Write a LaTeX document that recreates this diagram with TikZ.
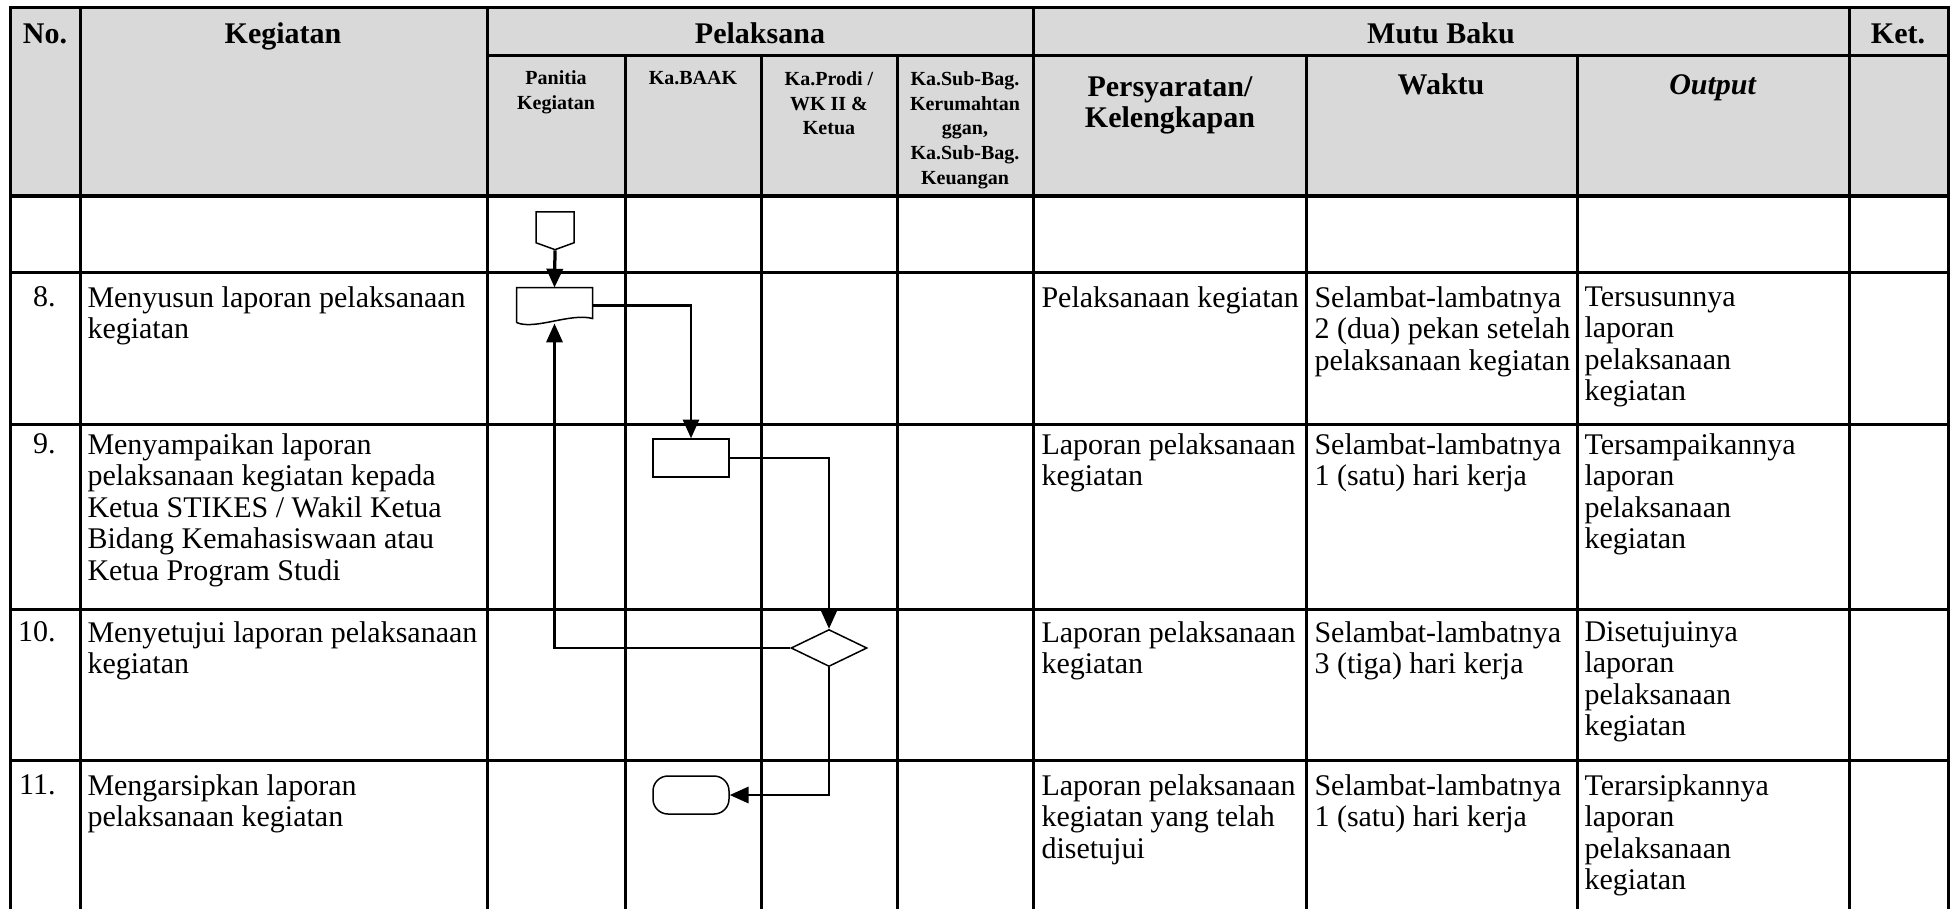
\documentclass[tikz,border=0pt]{standalone}
\usepackage{fontspec}
\setmainfont{Liberation Serif}
\usepackage{tikz}
\usetikzlibrary{shapes.geometric, shapes.symbols, arrows.meta, calc}

\begin{document}
\begin{tikzpicture}[
    x=0.4pt, y=-0.4pt,
    grid/.style={line width=1.2pt, draw=black},
    headtxt/.style={anchor=base, inner sep=0pt, font=\fontsize{12}{12.6}\selectfont\bfseries},
    subtxt/.style={anchor=north, inner sep=0pt, align=center, font=\fontsize{8}{9.9}\selectfont\bfseries},
    celltxt/.style={anchor=north west, inner sep=0pt, align=left, font=\fontsize{12}{12.6}\selectfont},
    numtxt/.style={anchor=north east, inner sep=0pt, font=\fontsize{12}{12.6}\selectfont},
    offpage/.style={shape=signal, signal to=south, signal pointer angle=140, draw, line width=0.6pt, minimum width=15.2pt, minimum height=12.4pt, inner sep=0pt},
    process/.style={rectangle, draw, line width=0.6pt, minimum width=30.4pt, minimum height=15.2pt, inner sep=0pt},
    decision/.style={diamond, aspect=2, draw, line width=0.6pt, minimum width=30.4pt, minimum height=14.8pt, inner sep=0pt},
    terminal/.style={rectangle, rounded corners=6pt, draw, line width=0.6pt, minimum width=30.4pt, minimum height=15.2pt, inner sep=0pt},
    docbox/.style={rectangle, minimum width=30pt, minimum height=14pt, inner sep=0pt},
    arrow/.style={-{Triangle[length=7.5pt, width=6.5pt]}, line width=0.9pt, draw=black}
]
\useasboundingbox (0,0) rectangle (1959,909);

% Header background
\fill[gray!30] (10,7) rectangle (1948,196);

% Table lines
\draw[grid] (10,909) -- (10,7) -- (1948,7) -- (1948,909);
\draw[grid] (487,55) -- (1948,55);
\draw[grid, line width=1.6pt] (10,196) -- (1948,196);
\foreach \y in {272,424,609,760}
    \draw[grid] (10,\y) -- (1948,\y);
\foreach \x in {80,487,1033,1849}
    \draw[grid] (\x,7) -- (\x,909);
\foreach \x in {625,761,897,1306,1577}
    \draw[grid] (\x,55) -- (\x,909);

% Header
\node[headtxt] (h_no) at (45,43) {No.};
\node[headtxt] (h_keg) at (283,43) {Kegiatan};
\node[headtxt] (h_pel) at (760,43) {Pelaksana};
\node[headtxt] (h_mutu) at (1441,43) {Mutu Baku};
\node[headtxt] (h_ket) at (1898,43) {Ket.};

\node[subtxt] (h_panitia) at (556,70) {Panitia\\Kegiatan};
\node[subtxt] (h_baak) at (693,71) {Ka.BAAK};
\node[subtxt] (h_prodi) at (829,71) {Ka.Prodi /\\WK II \&\\Ketua};
\node[subtxt] (h_subbag) at (965,71) {Ka.Sub-Bag.\\Kerumahtan\\ggan,\\Ka.Sub-Bag.\\Keuangan};

\node[headtxt, anchor=north, align=center] (h_syarat) at (1170,76) {Persyaratan/\\Kelengkapan};
\node[headtxt] (h_waktu) at (1441,94) {Waktu};
\node[headtxt] (h_output) at (1713,94) {\textit{Output}};

% Row 8
\node[numtxt] (n8) at (56,286) {8.};
\node[celltxt] (k8) at (87,286) {Menyusun laporan pelaksanaan\\kegiatan};
\node[celltxt] (s8) at (1041,286) {Pelaksanaan kegiatan};
\node[celltxt] (w8) at (1314,286) {Selambat-lambatnya\\2 (dua) pekan setelah\\pelaksanaan kegiatan};
\node[celltxt] (o8) at (1584,286) {Tersusunnya\\laporan\\pelaksanaan\\kegiatan};

% Row 9
\node[numtxt] (n9) at (56,433) {9.};
\node[celltxt] (k9) at (87,433) {Menyampaikan laporan\\pelaksanaan kegiatan kepada\\Ketua STIKES / Wakil Ketua\\Bidang Kemahasiswaan atau\\Ketua Program Studi};
\node[celltxt] (s9) at (1041,433) {Laporan pelaksanaan\\kegiatan};
\node[celltxt] (w9) at (1314,433) {Selambat-lambatnya\\1 (satu) hari kerja};
\node[celltxt] (o9) at (1584,433) {Tersampaikannya\\laporan\\pelaksanaan\\kegiatan};

% Row 10
\node[numtxt] (n10) at (56,621) {10.};
\node[celltxt] (k10) at (87,621) {Menyetujui laporan pelaksanaan\\kegiatan};
\node[celltxt] (s10) at (1041,621) {Laporan pelaksanaan\\kegiatan};
\node[celltxt] (w10) at (1314,621) {Selambat-lambatnya\\3 (tiga) hari kerja};
\node[celltxt] (o10) at (1584,621) {Disetujuinya\\laporan\\pelaksanaan\\kegiatan};

% Row 11
\node[numtxt] (n11) at (56,774) {11.};
\node[celltxt] (k11) at (87,774) {Mengarsipkan laporan\\pelaksanaan kegiatan};
\node[celltxt] (s11) at (1041,774) {Laporan pelaksanaan\\kegiatan yang telah\\disetujui};
\node[celltxt] (w11) at (1314,774) {Selambat-lambatnya\\1 (satu) hari kerja};
\node[celltxt] (o11) at (1584,774) {Terarsipkannya\\laporan\\pelaksanaan\\kegiatan};

% Flow symbols
\node[offpage, anchor=north] (conn) at (555,211) {};
\node[docbox] (doc) at (554.5,305.5) {};
\draw[line width=0.6pt] ($(doc.south west)+(0,-1)$) -- (doc.north west) -- (doc.north east)
    -- ($(doc.south east)+(0,-5)$)
    .. controls ($(doc.south east)+(-22,-11)$) and ($(doc.south west)+(18,7)$) .. ($(doc.south west)+(0,-1)$);
\node[process] (kirim) at (691,458) {};
\node[decision] (setuju) at (829,648) {};
\node[terminal] (arsip) at (691,795) {};

% Connectors
\draw[arrow, line width=1.3pt] (conn.south) -- (doc.north);
\draw[arrow] (doc.east) -| (kirim.north);
\draw[arrow] (kirim.east) -| (setuju.north);
\draw[arrow] (setuju.west) -| (doc.south);
\draw[arrow] (setuju.south) |- (arsip.east);

\end{tikzpicture}
\end{document}
